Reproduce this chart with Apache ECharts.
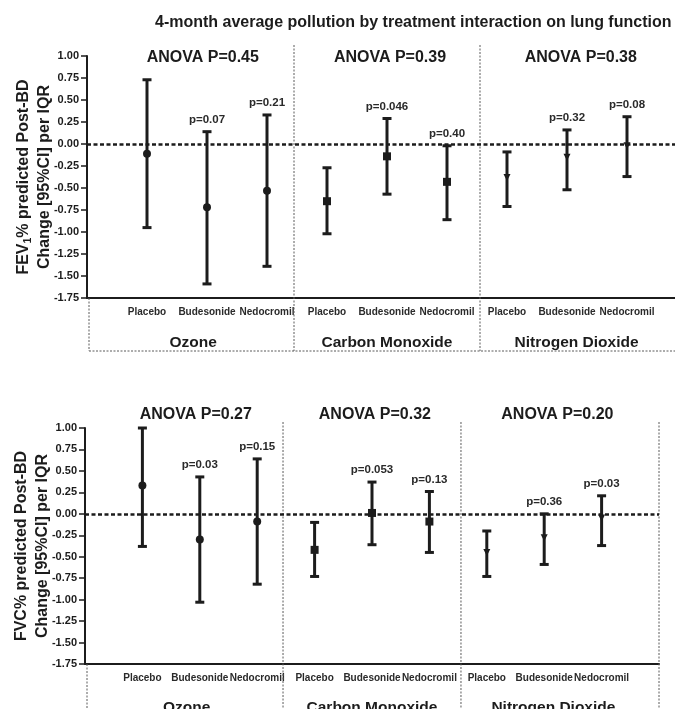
<!DOCTYPE html>
<html>
<head>
<meta charset="utf-8">
<script src="https://cdn.jsdelivr.net/npm/echarts@6/dist/echarts.min.js"></script>
<style>
html,body{margin:0;padding:0;background:#ffffff;}
#chart{width:675px;height:709px;}
</style>
</head>
<body>
<div id="chart"></div>
<script>
// ---------------- data ----------------
const chartTitle = '4-month average pollution by treatment interaction on lung function';
const treatments = ['Placebo', 'Budesonide', 'Nedocromil'];
const pollutants = ['Ozone', 'Carbon Monoxide', 'Nitrogen Dioxide'];
const markerSymbols = ['circle', 'rect', 'triangle'];

// order: Ozone (P,B,N), Carbon Monoxide (P,B,N), Nitrogen Dioxide (P,B,N)
const fev1Mean  = [-0.11, -0.72, -0.53, -0.65, -0.14, -0.43, -0.38, -0.15, -0.02];
const fev1Lower = [-0.95, -1.59, -1.39, -1.02, -0.57, -0.86, -0.71, -0.52, -0.37];
const fev1Upper = [ 0.73,  0.14,  0.33, -0.27,  0.29, -0.02, -0.09,  0.16,  0.31];
const fev1P     = ['', 'p=0.07', 'p=0.21', '', 'p=0.046', 'p=0.40', '', 'p=0.32', 'p=0.08'];
const fev1Anova = ['ANOVA P=0.45', 'ANOVA P=0.39', 'ANOVA P=0.38'];
const fev1YName = 'FEV{s|1}% predicted Post-BD\nChange [95%CI] per IQR';

const fvcMean  = [ 0.33, -0.30, -0.09, -0.42,  0.01, -0.09, -0.45, -0.28, -0.05];
const fvcLower = [-0.38, -1.03, -0.82, -0.73, -0.36, -0.45, -0.73, -0.59, -0.37];
const fvcUpper = [ 1.00,  0.43,  0.64, -0.10,  0.37,  0.26, -0.20,  0.00,  0.21];
const fvcP     = ['', 'p=0.03', 'p=0.15', '', 'p=0.053', 'p=0.13', '', 'p=0.36', 'p=0.03'];
const fvcAnova = ['ANOVA P=0.27', 'ANOVA P=0.32', 'ANOVA P=0.20'];
const fvcYName = 'FVC% predicted Post-BD\nChange [95%CI] per IQR';

const yMin = -1.75, yMax = 1.00, yStep = 0.25;

// ---------------- layout (positions / styles) ----------------
const FONT = '"Liberation Sans", Arial, Helvetica, sans-serif';
const INK = '#1c1c1c';
const layout = {
  dividerX: [3.45, 6.55],
  anovaX: [1.93, 5.05, 8.23],
  groupX: [1.77, 5.0, 8.16]
};
const panels = [
  { grid: {left: 87, top: 56, width: 588, height: 242}, xMax: 9.8,
    mean: fev1Mean, lower: fev1Lower, upper: fev1Upper, p: fev1P, anova: fev1Anova, yName: fev1YName,
    anovaDy: 2, divTop: -11, boxBottom: 53, groupDy: 45, rightDivider: false },
  { grid: {left: 85, top: 428, width: 574, height: 236}, xMax: 10,
    mean: fvcMean, lower: fvcLower, upper: fvcUpper, p: fvcP, anova: fvcAnova, yName: fvcYName,
    anovaDy: -13, divTop: -6, boxBottom: null, groupDy: 44, rightDivider: true }
];

const chart = echarts.init(document.getElementById('chart'), null, {renderer: 'canvas'});

const grids = [], xAxes = [], yAxes = [], series = [];

panels.forEach((pn, idx) => {
  grids.push(Object.assign({containLabel: false, outerBoundsMode: 'none'}, pn.grid));
  xAxes.push({
    type: 'value', gridIndex: idx, min: 0, max: pn.xMax, interval: 1,
    axisLine: {show: true, onZero: false, lineStyle: {color: INK, width: 2}},
    axisTick: {show: false}, splitLine: {show: false},
    axisLabel: {
      show: true, margin: 9, color: '#2a2a2a', fontFamily: FONT, fontWeight: 'bold', fontSize: 10,
      showMinLabel: true, showMaxLabel: true, hideOverlap: false,
      formatter: v => (Number.isInteger(v) && v >= 1 && v <= 9) ? treatments[(v - 1) % 3] : ''
    }
  });
  yAxes.push({
    type: 'value', gridIndex: idx, min: yMin, max: yMax, interval: yStep,
    axisLine: {show: true, onZero: false, lineStyle: {color: INK, width: 2}},
    axisTick: {show: true, length: 6, lineStyle: {color: INK, width: 1.5}},
    splitLine: {show: false},
    axisLabel: {margin: 8, color: INK, fontFamily: FONT, fontWeight: 'bold', fontSize: 11,
      formatter: v => v.toFixed(2)},
    name: pn.yName, nameLocation: 'middle', nameGap: 32, nameRotate: 90, nameMoveOverlap: false,
    nameTextStyle: {
      color: INK, fontFamily: FONT, fontWeight: 'bold', fontSize: 16, lineHeight: 21, align: 'center',
      rich: { s: {fontFamily: FONT, fontWeight: 'bold', fontSize: 10.5, verticalAlign: 'bottom', lineHeight: 21} }
    }
  });

  // error bars with p-value labels
  series.push({
    type: 'custom', xAxisIndex: idx, yAxisIndex: idx, clip: false, z: 3,
    data: pn.mean.map((m, i) => [i + 1, pn.lower[i], pn.upper[i], pn.p[i]]),
    encode: {x: 0, y: [1, 2]},
    renderItem: function (params, api) {
      const x = api.value(0);
      const lo = api.coord([x, api.value(1)]);
      const hi = api.coord([x, api.value(2)]);
      const label = pn.p[params.dataIndex];
      const hw = 4.5;
      const st = {stroke: INK, lineWidth: 3};
      const children = [
        {type: 'line', shape: {x1: lo[0], y1: lo[1], x2: hi[0], y2: hi[1]}, style: st},
        {type: 'line', shape: {x1: lo[0] - hw, y1: lo[1], x2: lo[0] + hw, y2: lo[1]}, style: st},
        {type: 'line', shape: {x1: hi[0] - hw, y1: hi[1], x2: hi[0] + hw, y2: hi[1]}, style: st}
      ];
      if (label) {
        children.push({type: 'text', style: {text: label, x: hi[0], y: hi[1] - 6, fill: '#2a2a2a',
          fontFamily: FONT, fontWeight: 'bold', fontSize: 11.5, align: 'center', verticalAlign: 'bottom'}});
      }
      return {type: 'group', children: children};
    }
  });

  // point estimates
  series.push({
    type: 'scatter', xAxisIndex: idx, yAxisIndex: idx, z: 4,
    itemStyle: {color: INK, opacity: 1},
    data: pn.mean.map((m, i) => {
      const g = Math.floor(i / 3);
      return {value: [i + 1, m], symbol: markerSymbols[g], symbolSize: g === 2 ? 7 : 8, symbolRotate: g === 2 ? 180 : 0};
    }),
    markLine: {
      silent: true, symbol: ['none', 'none'], label: {show: false},
      lineStyle: {color: INK, width: 2.5, type: [4, 2.5]},
      data: [{yAxis: 0}], animation: false
    }
  });

  // panel decorations: dividers, boxes, group names, ANOVA labels
  series.push({
    type: 'custom', xAxisIndex: idx, yAxisIndex: idx, clip: false, z: 1, silent: true,
    data: [[0, 0]],
    renderItem: function (params, api) {
      const cs = params.coordSys;
      const top = cs.y, bottom = cs.y + cs.height;
      const dash = {stroke: '#5a5a5a', lineWidth: 1, lineDash: [2, 1.5]};
      const boxBottom = pn.boxBottom === null ? bottom + 80 : bottom + pn.boxBottom;
      const ch = [];
      layout.dividerX.forEach(dx => {
        const px = api.coord([dx, 0])[0];
        ch.push({type: 'line', shape: {x1: px, y1: top + pn.divTop, x2: px, y2: boxBottom}, style: dash});
      });
      ch.push({type: 'line', shape: {x1: cs.x + 2, y1: bottom, x2: cs.x + 2, y2: boxBottom}, style: dash});
      if (pn.rightDivider) {
        const rx = cs.x + cs.width;
        ch.push({type: 'line', shape: {x1: rx, y1: top + pn.divTop, x2: rx, y2: boxBottom}, style: dash});
      }
      if (pn.boxBottom !== null) {
        ch.push({type: 'line', shape: {x1: cs.x + 2, y1: boxBottom, x2: cs.x + cs.width, y2: boxBottom}, style: dash});
      }
      pollutants.forEach((name, g) => {
        const px = api.coord([layout.groupX[g], 0])[0];
        ch.push({type: 'text', style: {text: name, x: px, y: bottom + pn.groupDy, fill: INK, fontFamily: FONT,
          fontWeight: 'bold', fontSize: 15.5, align: 'center', verticalAlign: 'middle'}});
      });
      pn.anova.forEach((txt, g) => {
        const px = api.coord([layout.anovaX[g], 0])[0];
        ch.push({type: 'text', style: {text: txt, x: px, y: top + pn.anovaDy, fill: INK, fontFamily: FONT,
          fontWeight: 'bold', fontSize: 16, align: 'center', verticalAlign: 'middle'}});
      });
      return {type: 'group', children: ch};
    }
  });
});

chart.setOption({
  backgroundColor: '#ffffff',
  animation: false,
  title: {
    text: chartTitle, left: 150, top: 10,
    textStyle: {color: INK, fontFamily: FONT, fontWeight: 'bold', fontSize: 16}
  },
  grid: grids, xAxis: xAxes, yAxis: yAxes, series: series
});
</script>
</body>
</html>
